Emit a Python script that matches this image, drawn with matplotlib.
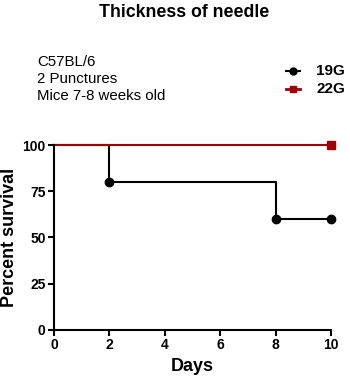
import matplotlib.pyplot as plt
from matplotlib.lines import Line2D

plt.rcParams['font.family'] = ['Liberation Sans', 'DejaVu Sans']

days_19 = [0, 2, 8, 10]
surv_19 = [100, 80, 60, 60]
mark_days_19 = [2, 8, 10]
mark_surv_19 = [80, 60, 60]

days_22 = [0, 10]
surv_22 = [100, 100]
mark_days_22 = [10]
mark_surv_22 = [100]

xticks = [0, 2, 4, 6, 8, 10]
yticks = [0, 25, 50, 75, 100]

fig = plt.figure(figsize=(3.5, 3.8), dpi=100)
ax = fig.add_axes([0.154, 0.132, 0.792, 0.486])

ax.step(days_19, surv_19, where='post', color='black', lw=1.5, clip_on=False)
ax.plot(mark_days_19, mark_surv_19, 'o', color='black', ms=6, clip_on=False, zorder=5)
ax.plot(days_22, surv_22, color='#a00000', lw=1.5, clip_on=False)
ax.plot(mark_days_22, mark_surv_22, 's', color='#a00000', ms=6, clip_on=False, zorder=5)

ax.set_xlim(0, 10)
ax.set_ylim(0, 100)
ax.set_xticks(xticks)
ax.set_yticks(yticks)
for lbl in ax.get_xticklabels() + ax.get_yticklabels():
    lbl.set_fontweight('bold')
    lbl.set_fontsize(10)
ax.tick_params(direction='out', width=1.5, length=4, pad=2)
for s in ['top', 'right']:
    ax.spines[s].set_visible(False)
for s in ['left', 'bottom']:
    ax.spines[s].set_linewidth(1.5)

ax.set_xlabel('Days', fontsize=13, fontweight='bold', labelpad=4)
ax.set_ylabel('Percent survival', fontsize=13, fontweight='bold', labelpad=3)

fig.text(0.525, 0.968, 'Thickness of needle', ha='center', va='center',
         fontsize=12.8, fontweight='bold')
fig.text(0.105, 0.792, 'C57BL/6\n2 Punctures\nMice 7-8 weeks old',
         ha='left', va='center', fontsize=10.8, linespacing=1.25)

# legend drawn by hand
fig.add_artist(Line2D([0.817, 0.857], [0.813, 0.813], color='black', lw=1.5))
fig.add_artist(Line2D([0.837], [0.813], color='black', marker='o', ms=5))
fig.add_artist(Line2D([0.817, 0.857], [0.765, 0.765], color='#a00000', lw=2))
fig.add_artist(Line2D([0.837], [0.765], color='#a00000', marker='s', ms=5))
fig.text(0.903, 0.813, '19G', ha='left', va='center', fontsize=11, fontweight='bold')
fig.text(0.903, 0.765, '22G', ha='left', va='center', fontsize=11, fontweight='bold')

fig.savefig('out.png', dpi=100)
